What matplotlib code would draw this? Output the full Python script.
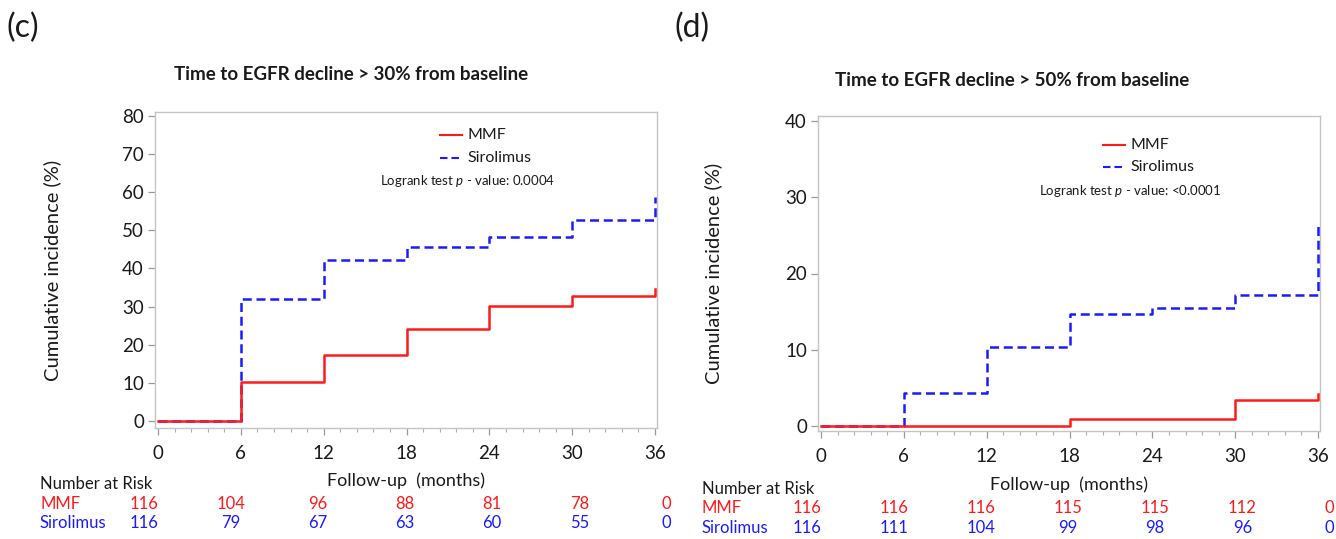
import matplotlib
matplotlib.use("Agg")
import matplotlib.pyplot as plt
import matplotlib.transforms as mtransforms
from matplotlib.ticker import MultipleLocator
from matplotlib.lines import Line2D

# ---------------- data ----------------
months = [0, 6, 12, 18, 24, 30, 36]

c_title = "Time to EGFR decline > 30% from baseline"
c_mmf = [0.0, 10.3, 17.2, 24.1, 30.2, 32.8, 34.7]
c_sir = [0.0, 31.9, 42.1, 45.7, 48.2, 52.6, 58.7]
c_risk_mmf = [116, 104, 96, 88, 81, 78, 0]
c_risk_sir = [116, 79, 67, 63, 60, 55, 0]
c_pvalue = "0.0004"
c_yticks = [0, 10, 20, 30, 40, 50, 60, 70, 80]

d_title = "Time to EGFR decline > 50% from baseline"
d_mmf = [0.0, 0.0, 0.0, 0.9, 0.9, 3.4, 4.2]
d_sir = [0.0, 4.3, 10.3, 14.7, 15.5, 17.2, 26.3]
d_risk_mmf = [116, 116, 116, 115, 115, 112, 0]
d_risk_sir = [116, 111, 104, 99, 98, 96, 0]
d_pvalue = "<0.0001"
d_yticks = [0, 10, 20, 30, 40]

groups = ["MMF", "Sirolimus"]
# ---------------------------------------

plt.rcParams['font.family'] = ['Lato', 'DejaVu Sans']
plt.rcParams['mathtext.fontset'] = 'custom'
plt.rcParams['mathtext.it'] = 'Lato:italic'
plt.rcParams['mathtext.rm'] = 'Lato'

RED = '#ff1a1a'
BLUE = '#1a1aff'
FRAME = '#c4c4c4'
TXT = '#1a1a1a'
DASH = (0, (3.6, 1.9))

fig = plt.figure(figsize=(13.36, 5.39), dpi=100)


def panel(rect, label, label_x, title, title_xy, mmf, sir, yticks, ylim, xlim,
          pval, leg_y, risk_mmf, risk_sir, risk_y, xlabel_y, left_x, ylab_x):
    ax = fig.add_axes(rect)
    ax.step(months, sir, where='post', color=BLUE, lw=1.8,
            linestyle=DASH, zorder=3)
    ax.step(months, mmf, where='post', color=RED, lw=1.8, zorder=4)
    ax.set_xlim(*xlim)
    ax.set_ylim(*ylim)
    ax.set_xticks(months)
    ax.xaxis.set_minor_locator(MultipleLocator(1.2))
    ax.set_yticks(yticks)
    for s in ax.spines.values():
        s.set_color(FRAME)
        s.set_linewidth(1.0)
    ax.tick_params(which='major', direction='out', length=5, width=0.9,
                   color='#9a9a9a', labelsize=13.5, labelcolor=TXT, pad=3)
    ax.tick_params(which='minor', direction='out', length=3, width=0.8,
                   color='#b0b0b0')
    ax.tick_params(axis='x', which='major', pad=7)
    ax.set_ylabel("Cumulative incidence (%)", fontsize=14.5, color=TXT)
    ax.yaxis.set_label_coords(ylab_x, 0.5)

    # legend drawn manually
    lx0, lx1, tx = 0.568, 0.612, 0.622
    ax.add_line(Line2D([lx0, lx1], [leg_y[0], leg_y[0]], transform=ax.transAxes,
                       color=RED, lw=1.5))
    ax.add_line(Line2D([lx0, lx1], [leg_y[1], leg_y[1]], transform=ax.transAxes,
                       color=BLUE, lw=1.5, linestyle=DASH))
    ax.text(tx, leg_y[0], groups[0], transform=ax.transAxes, fontsize=11.5,
            va='center', ha='left', color=TXT)
    ax.text(tx, leg_y[1], groups[1], transform=ax.transAxes, fontsize=11.5,
            va='center', ha='left', color=TXT)
    ax.text(tx, leg_y[2], r"Logrank test $\mathit{p}$ - value: " + pval,
            transform=ax.transAxes, fontsize=9.5, va='center', ha='center',
            color=TXT)

    # titles
    fig.text(title_xy[0], title_xy[1], title, fontsize=13.5, fontweight='bold',
             ha='center', va='center', color=TXT)
    fig.text(label_x, 0.948, label, fontsize=23, ha='left', va='center',
             color=TXT)

    # x label
    ax.text(0.5, xlabel_y, "Follow-up  (months)",
            transform=mtransforms.blended_transform_factory(ax.transAxes,
                                                            fig.transFigure),
            fontsize=13, ha='center', va='center', color=TXT)

    # number at risk table
    tr = mtransforms.blended_transform_factory(ax.transData, fig.transFigure)
    fig.text(left_x, risk_y[0], "Number at Risk", fontsize=12, ha='left',
             va='center', color=TXT)
    fig.text(left_x, risk_y[1], groups[0], fontsize=12, ha='left',
             va='center', color=RED)
    fig.text(left_x, risk_y[2], groups[1], fontsize=12, ha='left',
             va='center', color=BLUE)
    for m, a, b in zip(months, risk_mmf, risk_sir):
        xp = m * 1.052 - 1.05
        ax.text(xp, risk_y[1], str(a), transform=tr, fontsize=12,
                ha='center', va='center', color=RED)
        ax.text(xp, risk_y[2], str(b), transform=tr, fontsize=12,
                ha='center', va='center', color=BLUE)
    return ax


panel([155 / 1336, 1 - 428 / 539, 502 / 1336, 316 / 539], "(c)", 0.005,
      c_title, (351 / 1336, 1 - 75 / 539), c_mmf, c_sir, c_yticks,
      (-1.85, 81.05), (-0.22, 36.14), c_pvalue, (0.927, 0.854, 0.782),
      c_risk_mmf, c_risk_sir, (1 - 484 / 539, 1 - 504 / 539, 1 - 523 / 539),
      1 - 481 / 539, 40 / 1336, (61 - 155) / 502)

panel([818 / 1336, 1 - 431 / 539, 502 / 1336, 315 / 539], "(d)", 0.505,
      d_title, (1012 / 1336, 1 - 80 / 539), d_mmf, d_sir, d_yticks,
      (-0.66, 40.66), (-0.22, 36.14), d_pvalue, (0.908, 0.837, 0.762),
      d_risk_mmf, d_risk_sir, (1 - 489 / 539, 1 - 508 / 539, 1 - 528 / 539),
      1 - 485 / 539, 702 / 1336, (722 - 818) / 502)

fig.savefig("out.png", dpi=100)
